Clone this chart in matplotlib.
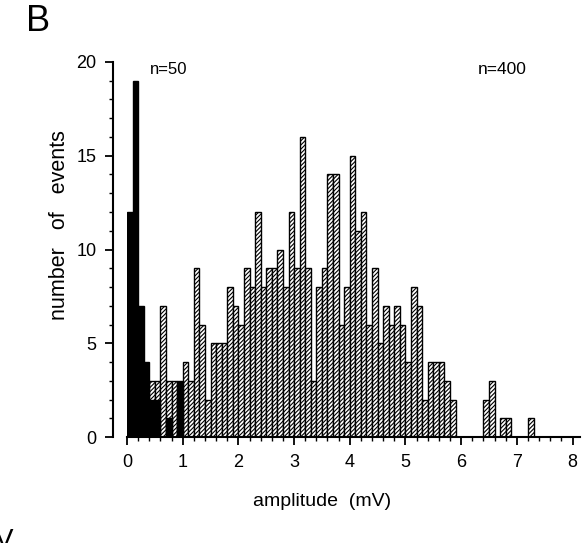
import matplotlib.pyplot as plt
import numpy as np
from matplotlib.ticker import MultipleLocator

plt.rcParams["font.family"] = ["Liberation Sans", "DejaVu Sans"]
plt.rcParams["hatch.linewidth"] = 0.8

# amplitude histograms, 0.1 mV bins starting at 0 mV
bin_width = 0.1
# hatched: n=400 (bins 0-3 are hidden behind the black bars, estimated)
counts_400 = [1, 2, 3, 2, 3, 3, 7, 3, 3, 2,
              4, 3, 9, 6, 2, 5, 5, 5, 8, 7,
              6, 9, 8, 12, 8, 9, 9, 10, 8, 12,
              9, 16, 9, 3, 8, 9, 14, 14, 6, 8,
              15, 11, 12, 6, 9, 5, 7, 6, 7, 6,
              4, 8, 7, 2, 4, 4, 4, 3, 2, 0,
              0, 0, 0, 0, 2, 3, 0, 1, 1, 0,
              0, 0, 1]
# black: n=50
counts_50 = [12, 19, 7, 4, 2, 2, 0, 1, 0, 3]

y_ticks = [0, 5, 10, 15, 20]
x_ticks = [0, 1, 2, 3, 4, 5, 6, 7, 8]

left_400 = np.arange(len(counts_400)) * bin_width
left_50 = np.arange(len(counts_50)) * bin_width

fig = plt.figure(figsize=(5.88, 5.43), dpi=100)
ax = fig.add_axes([0.216, 0.195, 0.770, 0.691])

ax.bar(left_400, counts_400, width=bin_width, align="edge", color="white",
       edgecolor="black", linewidth=1.0, hatch="////////", zorder=2)
ax.bar(left_50, counts_50, width=bin_width, align="edge", color="black",
       edgecolor="black", linewidth=1.0, zorder=3)

ax.set_xlim(0, 8.13)
ax.set_ylim(0, 20)
ax.set_yticks(y_ticks)
ax.set_xticks(x_ticks)
ax.yaxis.set_minor_locator(MultipleLocator(1))
ax.xaxis.set_minor_locator(MultipleLocator(0.2))

for side in ("top", "right"):
    ax.spines[side].set_visible(False)
ax.spines["left"].set_position(("outward", 10))
ax.spines["left"].set_linewidth(1.5)
ax.spines["bottom"].set_linewidth(1.5)

ax.tick_params(axis="both", which="major", direction="out", length=6, width=1.3,
               labelsize=13, pad=6)
ax.tick_params(axis="both", which="minor", direction="out", length=3, width=1.0)

ax.set_ylabel("number   of   events", fontsize=15.5, va="center")
ax.yaxis.set_label_coords(-0.148, 0.565)
ax.set_xlabel("amplitude  (mV)", fontsize=14)
ax.xaxis.set_label_coords(0.43, -0.148)

ax.text(0.42, 19.6, "n=50", fontsize=12, va="center", ha="left")
ax.text(6.3, 19.6, "n=400", fontsize=12.5, va="center", ha="left")

fig.text(0.045, 0.96, "B", fontsize=26, va="center", ha="left")
fig.text(-0.008, -0.02, "V", fontsize=20, va="bottom", ha="left")

fig.savefig("out.png", dpi=100)
